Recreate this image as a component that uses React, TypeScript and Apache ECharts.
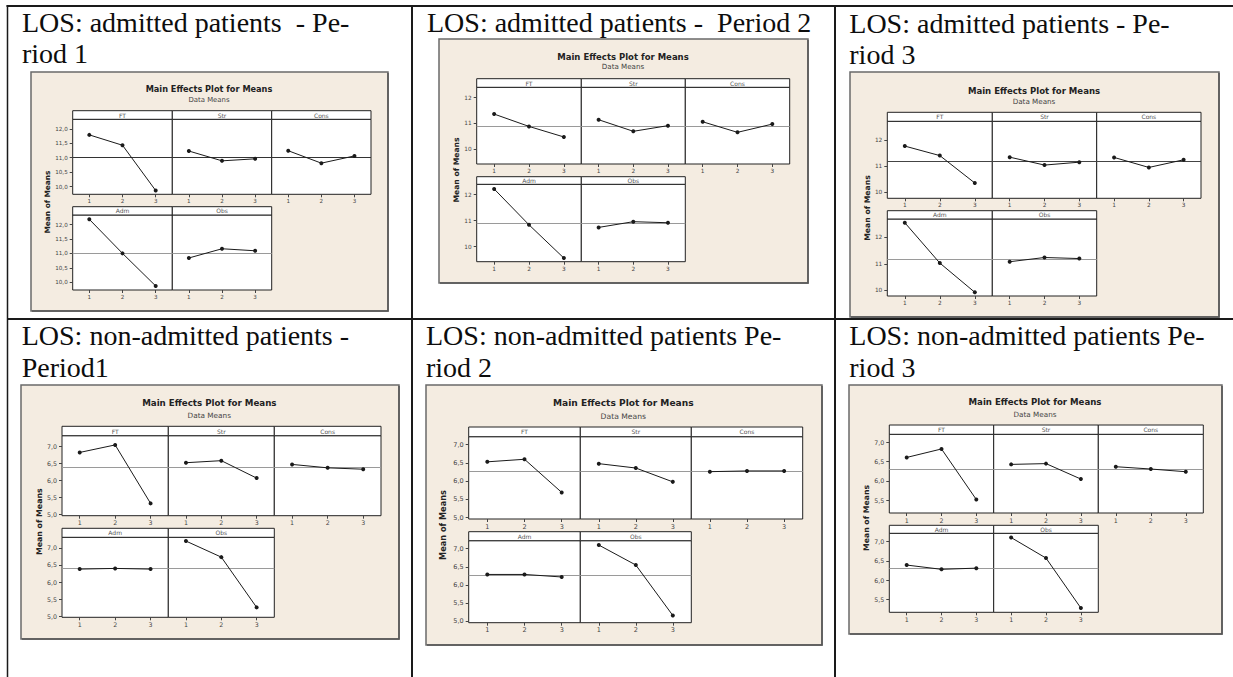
import React, { useEffect, useRef } from "react";
import * as echarts from "echarts";

// ---------- data ----------
const factors = ["FT", "Str", "Cons", "Adm", "Obs"];
const levels = ["1", "2", "3"];

const cellTitles = [
  ["LOS: admitted patients  - Pe-", "riod 1"],
  ["LOS: admitted patients -  Period 2"],
  ["LOS: admitted patients - Pe-", "riod 3"],
  ["LOS: non-admitted patients -", "Period1"],
  ["LOS: non-admitted patients Pe-", "riod 2"],
  ["LOS: non-admitted patients Pe-", "riod 3"],
];

// means per factor (FT, Str, Cons, Adm, Obs) at levels 1,2,3
const admittedP1 = [[11.79, 11.43, 9.86], [11.23, 10.89, 10.96], [11.24, 10.81, 11.06], [12.18, 11.0, 9.87], [10.84, 11.16, 11.09]];
const admittedP2 = [[11.36, 10.88, 10.47], [11.14, 10.69, 10.91], [11.06, 10.65, 10.97], [12.22, 10.84, 9.56], [10.74, 10.96, 10.92]];
const admittedP3 = [[11.76, 11.4, 10.36], [11.34, 11.04, 11.15], [11.33, 10.95, 11.24], [12.56, 11.03, 9.92], [11.08, 11.24, 11.2]];
const nonAdmittedP1 = [[6.82, 7.04, 5.33], [6.52, 6.58, 6.07], [6.47, 6.37, 6.33], [6.38, 6.4, 6.38], [7.2, 6.73, 5.26]];
const nonAdmittedP2 = [[6.53, 6.6, 5.69], [6.48, 6.36, 5.98], [6.26, 6.28, 6.28], [6.29, 6.29, 6.22], [7.1, 6.55, 5.16]];
const nonAdmittedP3 = [[6.61, 6.83, 5.52], [6.43, 6.45, 6.05], [6.37, 6.31, 6.24], [6.39, 6.28, 6.31], [7.1, 6.57, 5.28]];
const cellData = [admittedP1, admittedP2, admittedP3, nonAdmittedP1, nonAdmittedP2, nonAdmittedP3];

const grandMeans = [11.0, 10.89, 11.17, 6.4, 6.26, 6.31];
const yTicks = [
  [10, 10.5, 11, 11.5, 12],
  [10, 11, 12],
  [10, 11, 12],
  [5, 5.5, 6, 6.5, 7],
  [5, 5.5, 6, 6.5, 7],
  [5.5, 6, 6.5, 7],
];
const tickDecimals = [1, 0, 0, 1, 1, 1];
const yRanges = [
  [9.73, 12.33],
  [9.42, 12.4],
  [9.78, 12.7],
  [4.97, 7.31],
  [4.96, 7.22],
  [5.17, 7.21],
];

// ---------- layout (pixels) ----------
type Layout = {
  box: number[];
  cols: number[];
  rows: number[][];
  title: number[];
  yname: number[];
  textX: number;
  textY: number[];
  tf: number;
  tick: number;
  mean: string[];
};
const layouts: Layout[] = [
  { box: [31, 72, 388, 311], cols: [72.7, 172.3, 271.7, 371], rows: [[110.7, 119.3, 194.3], [206.7, 215, 290]], title: [209, 89, 100], yname: [47.7, 202], textX: 22, textY: [31.7, 63.3], tf: 8.2, tick: 5.6, mean: ["#333", "#9a9a9a"] },
  { box: [439, 39, 808, 283], cols: [476.7, 581.3, 685.3, 789.7], rows: [[78.7, 87.3, 164], [176.7, 184.3, 261.7]], title: [623, 56.7, 66.7], yname: [456.7, 170], textX: 427, textY: [31.7], tf: 8.5, tick: 5.8, mean: ["#9a9a9a", "#9a9a9a"] },
  { box: [850, 72, 1219, 317], cols: [887.3, 992.3, 1096.7, 1201], rows: [[112.3, 121.3, 198.3], [210.7, 219, 296]], title: [1034, 90.7, 101], yname: [867.7, 208], textX: 849.3, textY: [32.5, 64], tf: 8.55, tick: 5.8, mean: ["#444", "#9a9a9a"] },
  { box: [21, 385, 399, 639], cols: [62, 168.3, 274.3, 381], rows: [[426.3, 435.7, 515.7], [528.3, 537.3, 617.3]], title: [209.3, 403.3, 415], yname: [39.3, 521.7], textX: 21.7, textY: [345, 377], tf: 8.7, tick: 6.3, mean: ["#9a9a9a", "#9a9a9a"] },
  { box: [426, 385, 822, 645], cols: [468.7, 580.3, 691.3, 802.7], rows: [[427, 436.7, 519], [531.7, 540.7, 622.7]], title: [623.3, 403.3, 416], yname: [443.3, 525], textX: 426, textY: [345, 377], tf: 9.1, tick: 6.5, mean: ["#9a9a9a", "#9a9a9a"] },
  { box: [849, 385, 1222, 634], cols: [889.3, 993.7, 1098.3, 1203.3], rows: [[425, 434.3, 513], [525.3, 533.3, 612.3]], title: [1035, 402.3, 414], yname: [866, 518], textX: 849.3, textY: [345, 377], tf: 8.6, tick: 6.3, mean: ["#9a9a9a", "#9a9a9a"] },
];

const SANS = "DejaVu Sans";
const SERIF = "Liberation Serif";

function buildOption() {
  const grids: any[] = [];
  const xAxes: any[] = [];
  const yAxes: any[] = [];
  const series: any[] = [];
  const graphics: any[] = [];

  // table lines
  const lineStyle = { stroke: "#1a1a1a", lineWidth: 2 };
  graphics.push({ type: "line", shape: { x1: 6.5, y1: 6, x2: 1233, y2: 6 }, style: lineStyle, z: 20 });
  graphics.push({ type: "line", shape: { x1: 7.5, y1: 5, x2: 7.5, y2: 677 }, style: { stroke: "#1a1a1a", lineWidth: 1.5 }, z: 20 });
  graphics.push({ type: "line", shape: { x1: 412, y1: 5, x2: 412, y2: 677 }, style: lineStyle, z: 20 });
  graphics.push({ type: "line", shape: { x1: 835, y1: 5, x2: 835, y2: 677 }, style: lineStyle, z: 20 });
  graphics.push({ type: "line", shape: { x1: 7, y1: 319, x2: 1233, y2: 319 }, style: lineStyle, z: 20 });

  cellData.forEach((means, ci) => {
    const L = layouts[ci];
    const [bx0, by0, bx1, by1] = L.box;
    graphics.push({
      type: "rect",
      shape: { x: bx0, y: by0, width: bx1 - bx0, height: by1 - by0 },
      style: { fill: "#f4ece1", stroke: "#6a6a6a", lineWidth: 1.5 },
      z: -10,
    });
    // darker shadow edge on right and bottom
    graphics.push({
      type: "polyline",
      shape: { points: [[bx1, by0 + 1], [bx1, by1], [bx0 + 1, by1]] },
      style: { stroke: "#555", lineWidth: 1.5, fill: null },
      z: -9,
    });
    // cell heading text
    cellTitles[ci].forEach((t, li) => {
      graphics.push({
        type: "text",
        x: L.textX,
        y: L.textY[li] - 9.5,
        style: { text: t, fontFamily: SERIF, fontSize: 28, fill: "#0d0d0d", align: "left", verticalAlign: "middle" },
        z: 20,
      });
    });
    graphics.push({
      type: "text",
      x: L.title[0],
      y: L.title[1],
      style: { text: "Main Effects Plot for Means", fontFamily: SANS, fontWeight: "bold", fontSize: L.tf, fill: "#222", align: "center", verticalAlign: "middle" },
      z: 20,
    });
    graphics.push({
      type: "text",
      x: L.title[0],
      y: L.title[2],
      style: { text: "Data Means", fontFamily: SANS, fontSize: L.tf * 0.84, fill: "#444", align: "center", verticalAlign: "middle" },
      z: 20,
    });
    graphics.push({
      type: "text",
      x: L.yname[0],
      y: L.yname[1],
      rotation: Math.PI / 2,
      style: { text: "Mean of Means", fontFamily: SANS, fontWeight: "bold", fontSize: L.tf * 0.9, fill: "#222", align: "center", verticalAlign: "middle" },
      z: 20,
    });

    const dec = tickDecimals[ci];
    for (let fi = 0; fi < factors.length; fi++) {
      const row = fi < 3 ? 0 : 1;
      const col = fi < 3 ? fi : fi - 3;
      const [hTop, pTop, pBot] = L.rows[row];
      const x0 = L.cols[col];
      const x1 = L.cols[col + 1];
      const gi = grids.length;
      grids.push({
        left: x0,
        top: pTop,
        width: x1 - x0,
        height: pBot - pTop,
        show: true,
        backgroundColor: "#ffffff",
        borderColor: "#222",
        borderWidth: 1,
        containLabel: false,
      });
      xAxes.push({
        gridIndex: gi,
        type: "category",
        data: levels,
        boundaryGap: true,
        axisLine: { show: false },
        axisTick: { show: true, alignWithLabel: true, length: 3, lineStyle: { color: "#444" } },
        axisLabel: { fontSize: L.tick, color: "#444", margin: 4, fontFamily: SANS },
        splitLine: { show: false },
      });
      yAxes.push({
        gridIndex: gi,
        type: "value",
        min: yRanges[ci][0],
        max: yRanges[ci][1],
        axisLine: { show: false },
        axisTick: { show: col === 0, length: 3, customValues: yTicks[ci], lineStyle: { color: "#444" } },
        axisLabel: {
          show: col === 0,
          customValues: yTicks[ci],
          fontSize: L.tick,
          color: "#444",
          margin: 5,
          fontFamily: SANS,
          formatter: (v: number) => v.toFixed(dec).replace(".", ","),
        },
        splitLine: { show: false },
      });
      series.push({
        type: "line",
        xAxisIndex: gi,
        yAxisIndex: gi,
        data: means[fi],
        symbol: "circle",
        symbolSize: 4,
        itemStyle: { color: "#1a1a1a" },
        lineStyle: { color: "#1a1a1a", width: 1 },
        z: 5,
        markLine: {
          silent: true,
          symbol: "none",
          label: { show: false },
          lineStyle: { color: L.mean[row], type: "solid", width: 1.2 },
          data: [{ yAxis: grandMeans[ci] }],
          z: 3,
        },
      });
      graphics.push({
        type: "rect",
        shape: { x: x0, y: hTop, width: x1 - x0, height: pTop - hTop },
        style: { fill: "#ffffff", stroke: "#222", lineWidth: 1 },
        z: 10,
      });
      graphics.push({
        type: "text",
        x: (x0 + x1) / 2,
        y: (hTop + pTop) / 2,
        style: { text: factors[fi], fontFamily: SANS, fontSize: 6, fill: "#555", align: "center", verticalAlign: "middle" },
        z: 11,
      });
    }
  });

  return {
    animation: false,
    backgroundColor: "#ffffff",
    grid: grids,
    xAxis: xAxes,
    yAxis: yAxes,
    series,
    graphic: graphics,
  };
}

export default function App() {
  const ref = useRef<HTMLDivElement>(null);
  useEffect(() => {
    if (!ref.current) return;
    const chart = echarts.init(ref.current, undefined, { renderer: "svg" });
    chart.setOption(buildOption() as any);
    return () => chart.dispose();
  }, []);
  return <div ref={ref} style={{ position: "fixed", left: 0, top: 0, width: 1233, height: 677 }} />;
}
